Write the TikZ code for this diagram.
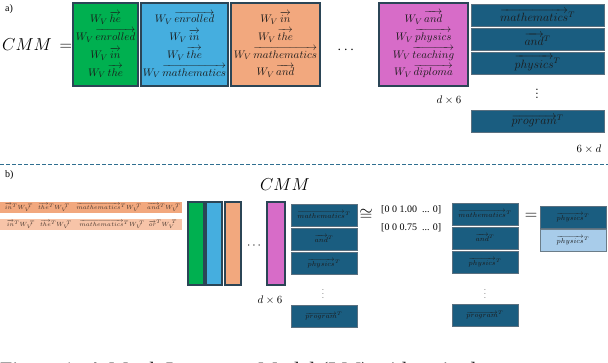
\documentclass[tikz,border=0pt]{standalone}
\usepackage{amsmath,amssymb}
\usepackage{fontspec}
\newfontfamily\tnr{Liberation Serif}
\definecolor{cgreen}{HTML}{00B050}
\definecolor{cblue}{HTML}{45AEDF}
\definecolor{corange}{HTML}{F2A87E}
\definecolor{corangel}{HTML}{F7C4A8}
\definecolor{cpink}{HTML}{D76CC8}
\definecolor{cteal}{HTML}{1A5D80}
\definecolor{clight}{HTML}{A8CCEA}
\definecolor{bordc}{HTML}{2B4556}
\definecolor{bordd}{HTML}{5A7080}
\definecolor{dashc}{HTML}{2F6F90}
\definecolor{txtd}{HTML}{1A1A1A}
\begin{document}
\begin{tikzpicture}[x=1pt,y=-1pt,
  abox/.style={draw=bordc, line width=1.1pt, anchor=north west, inner sep=0pt, outer sep=0pt,
     align=center, text=txtd, font=\fontsize{11.3}{17.8}\selectfont},
  bbar/.style={draw=bordc, line width=1.1pt, anchor=north west, inner sep=0pt, outer sep=0pt,
     minimum width=16, minimum height=83},
  dboxa/.style={draw=bordd, line width=1pt, fill=cteal, anchor=north west, inner sep=0pt, outer sep=0pt,
     minimum width=133, minimum height=22, text=txtd, font=\fontsize{12}{14}\selectfont},
  dboxb/.style={draw=bordd, line width=1pt, fill=cteal, anchor=north west, inner sep=0pt, outer sep=0pt,
     minimum width=66, minimum height=22, text=txtd, font=\fontsize{7}{8}\selectfont},
  strip/.style={anchor=north west, inner sep=0pt, outer sep=0pt, minimum width=182, minimum height=11},
  stxt/.style={inner sep=0pt, text=txtd!80!corange, font=\fontsize{6.3}{7}\selectfont},
  lbl/.style={inner sep=0pt, font=\tnr\fontsize{10}{12}\selectfont},
  dimlbl/.style={inner sep=0pt, font=\fontsize{11}{12}\selectfont}
]
\useasboundingbox (0,0) rectangle (608,362);

% ---------- part a ----------
\node[lbl, anchor=north west] (la) at (5,4) {a)};
\node[inner sep=0pt, anchor=west, font=\fontsize{18.5}{20}\selectfont] (cmma) at (2,45) {$CMM\,=$};

\node[abox, fill=cgreen, minimum width=65, minimum height=83] (ga) at (73,3)
  {$W_V\,\overrightarrow{he}$\\ $W_V\,\overrightarrow{enrolled}$\\ $W_V\,\overrightarrow{in}$\\ $W_V\,\overrightarrow{the}$};
\node[abox, fill=cblue, minimum width=87, minimum height=83] (ba) at (141,3)
  {$W_V\,\overrightarrow{enrolled}$\\ $W_V\,\overrightarrow{in}$\\ $W_V\,\overrightarrow{the}$\\ $W_V\,\overrightarrow{mathematics}$};
\node[abox, fill=corange, minimum width=89, minimum height=83] (oa) at (231,3)
  {$W_V\,\overrightarrow{in}$\\ $W_V\,\overrightarrow{the}$\\ $W_V\,\overrightarrow{mathematics}$\\ $W_V\,\overrightarrow{and}$};
\node[inner sep=0pt, font=\fontsize{14}{14}\selectfont] (dota) at (347,50) {$\cdots$};
\node[abox, fill=cpink, minimum width=89, minimum height=83] (pa) at (379,3)
  {$W_V\,\overrightarrow{and}$\\ $W_V\,\overrightarrow{physics}$\\ $W_V\,\overrightarrow{teaching}$\\ $W_V\,\overrightarrow{diploma}$};
\node[dimlbl] (d6a) at (449,100) {$d\times 6$};

\node[dboxa] (m1a) at (471,4) {$\overrightarrow{mathematics}^{T}$};
\node[dboxa] (m2a) at (471,28) {$\overrightarrow{and}^{T}$};
\node[dboxa] (m3a) at (471,52) {$\overrightarrow{physics}^{T}$};
\node[inner sep=0pt, font=\fontsize{14}{14}\selectfont] (vda) at (537,91) {$\vdots$};
\node[dboxa] (m4a) at (471,110) {$\overrightarrow{program}^{T}$};
\node[dimlbl] (6da) at (589,149) {$6\times d$};

% ---------- separator ----------
\coordinate (sl) at (0,164);
\coordinate (sr) at (608,164);
\draw[dashc, line width=1pt, dash pattern=on 4pt off 2pt] (sl) -- (sr);

% ---------- part b ----------
\node[lbl, anchor=north west] (lb) at (5,170) {b)};

\node[strip, fill=corange] (s1) at (0,202) {};
\node[strip, fill=corangel] (s2) at (0,219) {};
\node[stxt] (s1a) at (19,207.5) {$\overrightarrow{in}^{T}W_V^{\;T}$};
\node[stxt] (s1b) at (54,207.5) {$\overrightarrow{the}^{T}W_V^{\;T}$};
\node[stxt] (s1c) at (109,207.5) {$\overrightarrow{mathematics}^{T}W_V^{\;T}$};
\node[stxt] (s1d) at (164,207.5) {$\overrightarrow{and}^{T}W_V^{\;T}$};
\node[stxt] (s2a) at (21,224.5) {$\overrightarrow{in}^{T}W_V^{\;T}$};
\node[stxt] (s2b) at (56,224.5) {$\overrightarrow{the}^{T}W_V^{\;T}$};
\node[stxt] (s2c) at (112,224.5) {$\overrightarrow{mathematics}^{T}W_V^{\;T}$};
\node[stxt] (s2d) at (163,224.5) {$\overrightarrow{or}^{T}W_V^{\;T}$};

\node[inner sep=0pt, font=\fontsize{19}{20}\selectfont] (cmmb) at (285,185) {$CMM$};
\node[bbar, fill=cgreen] (gb) at (188,202) {};
\node[bbar, fill=cblue] (bb) at (206,202) {};
\node[bbar, fill=corange] (ob) at (225,202) {};
\node[inner sep=0pt, font=\fontsize{13}{13}\selectfont] (dotb) at (255,246) {$\cdots$};
\node[bbar, fill=cpink, minimum width=18] (pb) at (267,202) {};
\node[dimlbl] (d6b) at (270,300) {$d\times 6$};

\node[dboxb] (m1b) at (291,204) {$\overrightarrow{mathematics}^{T}$};
\node[dboxb] (m2b) at (291,228) {$\overrightarrow{and}^{T}$};
\node[dboxb] (m3b) at (291,252) {$\overrightarrow{physics}^{T}$};
\node[inner sep=0pt, font=\fontsize{8}{8}\selectfont] (vdb) at (323,291) {$\vdots$};
\node[dboxb] (m4b) at (291,305) {$\overrightarrow{program}^{T}$};

\node[inner sep=0pt, font=\fontsize{16}{16}\selectfont] (cong) at (366,215) {$\cong$};
\node[lbl, anchor=west] (v1) at (381,210) {[0 0 1.00 \ ... 0]};
\node[lbl, anchor=west] (v2) at (381,228) {[0 0 0.75 \ ... 0]};

\node[dboxb] (m1c) at (452,203) {$\overrightarrow{mathematics}^{T}$};
\node[dboxb] (m2c) at (452,227) {$\overrightarrow{and}^{T}$};
\node[dboxb] (m3c) at (452,251) {$\overrightarrow{physics}^{T}$};
\node[inner sep=0pt, font=\fontsize{8}{8}\selectfont] (vdc) at (485,291) {$\vdots$};
\node[dboxb] (m4c) at (452,304) {$\overrightarrow{program}^{T}$};

\node[inner sep=0pt, font=\fontsize{16}{16}\selectfont] (eqb) at (531,216) {$=$};
\node[dboxb] (r1) at (540,206) {$\overrightarrow{physics}^{T}$};
\node[dboxb, fill=clight, draw=bordc!70] (r2) at (540,229) {$\overrightarrow{physics}^{T}$};

% ---------- caption (cut off) ----------
\begin{scope}
\clip (0,0) rectangle (608,362);
\node[anchor=base west, inner sep=0pt, font=\tnr\fontsize{22}{24}\selectfont, text=black!85] (cap) at (0,377)
  {Figure 1: A Mock Language Model (LM) with a single};
\end{scope}
\end{tikzpicture}
\end{document}
